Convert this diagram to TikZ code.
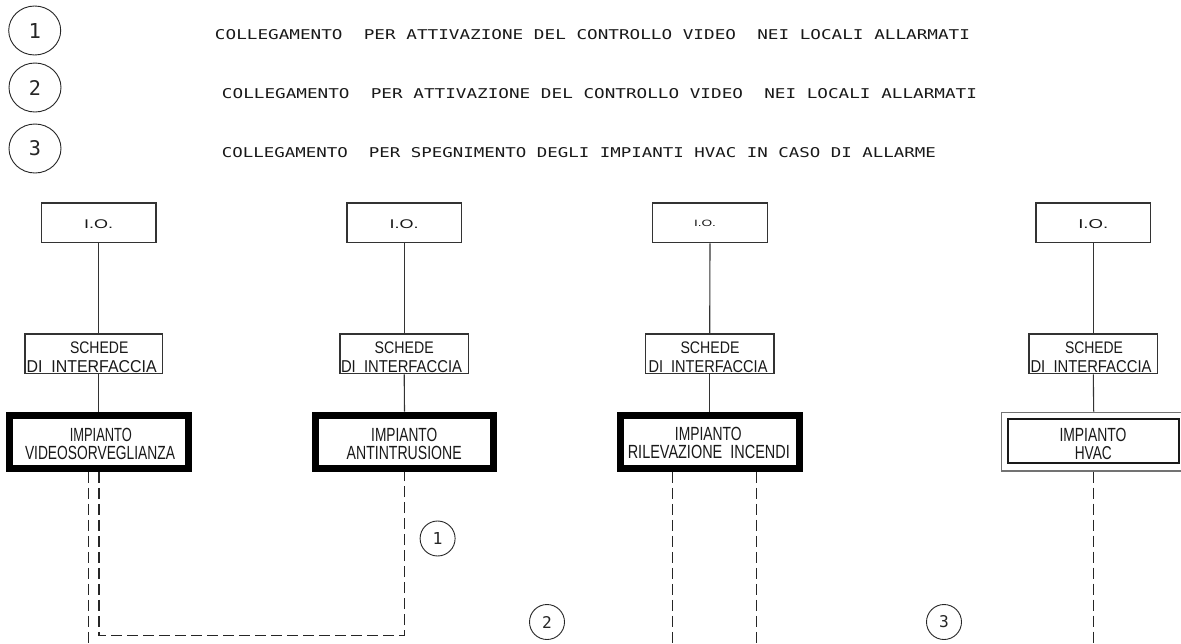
\documentclass[tikz,border=0pt]{standalone}
\usepackage{fontspec}
\setmainfont{Liberation Sans}
\newfontfamily\hdr{DejaVu Sans Mono}
\usetikzlibrary{shapes.geometric}
\newcommand{\fitto}[3]{\resizebox{#1pt}{#2pt}{#3}}
\newcommand{\capht}[2]{\resizebox{!}{#1pt}{#2}}
\begin{document}
\begin{tikzpicture}[x=1pt,y=-1pt,
  lbl/.style={inner sep=0pt, outer sep=0pt, text=black!90},
  conn/.style={draw=black!80, line width=1.1pt},
  dashline/.style={draw=black!85, line width=1.2pt, dash pattern=on 11pt off 5pt},
  iobox/.style={draw=black!80, line width=1.4pt, minimum width=114.6pt, minimum height=39.6pt, inner sep=0pt},
  sbox/.style={draw=black!80, line width=1.4pt, minimum height=39.6pt, inner sep=0pt},
  impbox/.style={draw=black, line width=7pt, minimum width=178.7pt, minimum height=53.3pt, inner sep=0pt},
  bigc/.style={draw=black!85, line width=0.9pt, ellipse, minimum width=52pt, minimum height=49pt, inner sep=0pt, text=black!85},
  smallc/.style={draw=black!85, line width=0.9pt, circle, minimum size=35pt, inner sep=0pt, text=black!85}
]
\path[use as bounding box, clip] (0,0) rectangle (1181,643);
\fill[white] (0,0) rectangle (1181,643);

% legend
\node[bigc] (n1) at (34.7,30.5) {\capht{15}{\hdr 1}};
\node[bigc] (n2) at (35,87.5) {\capht{15}{\hdr 2}};
\node[bigc] (n3) at (35,148.5) {\capht{15}{\hdr 3}};
\node[lbl] (t1) at (592.5,34.3) {\fitto{755}{10}{\hdr COLLEGAMENTO\ \ PER ATTIVAZIONE DEL CONTROLLO VIDEO\ \ NEI LOCALI ALLARMATI}};
\node[lbl] (t2) at (599.5,94) {\fitto{755}{10}{\hdr COLLEGAMENTO\ \ PER ATTIVAZIONE DEL CONTROLLO VIDEO\ \ NEI LOCALI ALLARMATI}};
\node[lbl] (t3) at (579,152.5) {\fitto{714}{10}{\hdr COLLEGAMENTO\ \ PER SPEGNIMENTO DEGLI IMPIANTI HVAC IN CASO DI ALLARME}};

% I.O. boxes
\node[iobox] (io1) at (98.7,222.8) {};
\node[iobox] (io2) at (404.2,222.8) {};
\node[iobox] (io3) at (710,222.8) {};
\node[iobox] (io4) at (1093.3,222.8) {};
\node[lbl] (io1t) at (98.7,224.5) {\fitto{29}{8.8}{I.O.}};
\node[lbl] (io2t) at (404.2,224.5) {\fitto{29}{8.8}{I.O.}};
\node[lbl] (io3t) at (705,223.5) {\fitto{22}{6.4}{I.O.}};
\node[lbl] (io4t) at (1093.3,224.5) {\fitto{30}{9}{I.O.}};

% SCHEDE boxes
\node[sbox, minimum width=137.6pt] (s1) at (93.8,353.8) {};
\node[sbox, minimum width=128.3pt] (s2) at (404.2,353.8) {};
\node[sbox, minimum width=128.3pt] (s3) at (709.7,353.8) {};
\node[sbox, minimum width=128.3pt] (s4) at (1093.3,353.8) {};
\node[lbl] (s1a) at (99.2,347.5) {\fitto{58.3}{11.7}{SCHEDE}};
\node[lbl] (s1b) at (91.7,366.5) {\fitto{130}{12}{DI\ \ INTERFACCIA}};
\node[lbl] (s2a) at (404.2,347.5) {\fitto{59}{11.7}{SCHEDE}};
\node[lbl] (s2b) at (401.5,366.5) {\fitto{121}{12}{DI\ \ INTERFACCIA}};
\node[lbl] (s3a) at (710,347.5) {\fitto{59}{11.7}{SCHEDE}};
\node[lbl] (s3b) at (708,366.5) {\fitto{119}{12}{DI\ \ INTERFACCIA}};
\node[lbl] (s4a) at (1094,347.5) {\fitto{58}{11.7}{SCHEDE}};
\node[lbl] (s4b) at (1091,366.5) {\fitto{121}{12}{DI\ \ INTERFACCIA}};

% IMPIANTO boxes
\node[impbox] (imp1) at (98.9,441.7) {};
\node[impbox] (imp2) at (404.5,441.7) {};
\node[impbox] (imp3) at (709.7,441.7) {};
\node[draw=black!55, line width=1.3pt, minimum width=184pt, minimum height=58.7pt, inner sep=0pt] (imp4o) at (1093.7,441.7) {};
\node[draw=black!90, line width=1.8pt, minimum width=170.7pt, minimum height=44pt, inner sep=0pt] (imp4) at (1093.7,441.3) {};
\node[lbl] (i1a) at (100.8,435) {\fitto{62}{13.3}{IMPIANTO}};
\node[lbl] (i1b) at (100,453.3) {\fitto{150}{13.3}{VIDEOSORVEGLIANZA}};
\node[lbl] (i2a) at (404.2,435) {\fitto{66}{13.3}{IMPIANTO}};
\node[lbl] (i2b) at (404.2,453.3) {\fitto{115}{13.3}{ANTINTRUSIONE}};
\node[lbl] (i3a) at (708.3,433.5) {\fitto{66.7}{13.3}{IMPIANTO}};
\node[lbl] (i3b) at (708.8,451.8) {\fitto{162}{13.3}{RILEVAZIONE\ \ INCENDI}};
\node[lbl] (i4a) at (1093,435) {\fitto{67}{13.3}{IMPIANTO}};
\node[lbl] (i4b) at (1093.3,453.3) {\fitto{37}{13}{HVAC}};

% solid connectors
\draw[conn] (io1.south) -- (io1.south |- s1.north);
\draw[conn] (io1.south |- s1.south) -- (io1.south |- imp1.north);
\draw[conn] (io2.south) -- (s2.north);
\draw[conn] (s2.south) -- (imp2.north);
\draw[conn] (io3.south) -- (s3.north);
\draw[conn] (s3.south) -- (imp3.north);
\draw[conn] (io4.south) -- (s4.north);
\draw[conn] (s4.south) -- (imp4o.north);

% dashed connections
\coordinate (e1) at (88.3,643);
\coordinate (lp) at (99,635.7);
\coordinate (e3a) at (672.7,643);
\coordinate (e3b) at (756.7,643);
\coordinate (e4) at (1093.7,643);
\draw[dashline] (imp1.south -| e1) -- (e1);
\draw[dashline] (imp1.south -| lp) -- (lp) -- (lp -| imp2.south) -- (imp2.south);
\draw[dashline] (imp3.south -| e3a) -- (e3a);
\draw[dashline] (imp3.south -| e3b) -- (e3b);
\draw[dashline] (imp4o.south) -- (e4);

% reference circles
\node[smallc] (c1) at (437.6,538.5) {\capht{12}{\hdr 1}};
\node[smallc] (c2) at (547,622) {\capht{12}{\hdr 2}};
\node[smallc] (c3) at (944,622) {\capht{12}{\hdr 3}};
\end{tikzpicture}
\end{document}
